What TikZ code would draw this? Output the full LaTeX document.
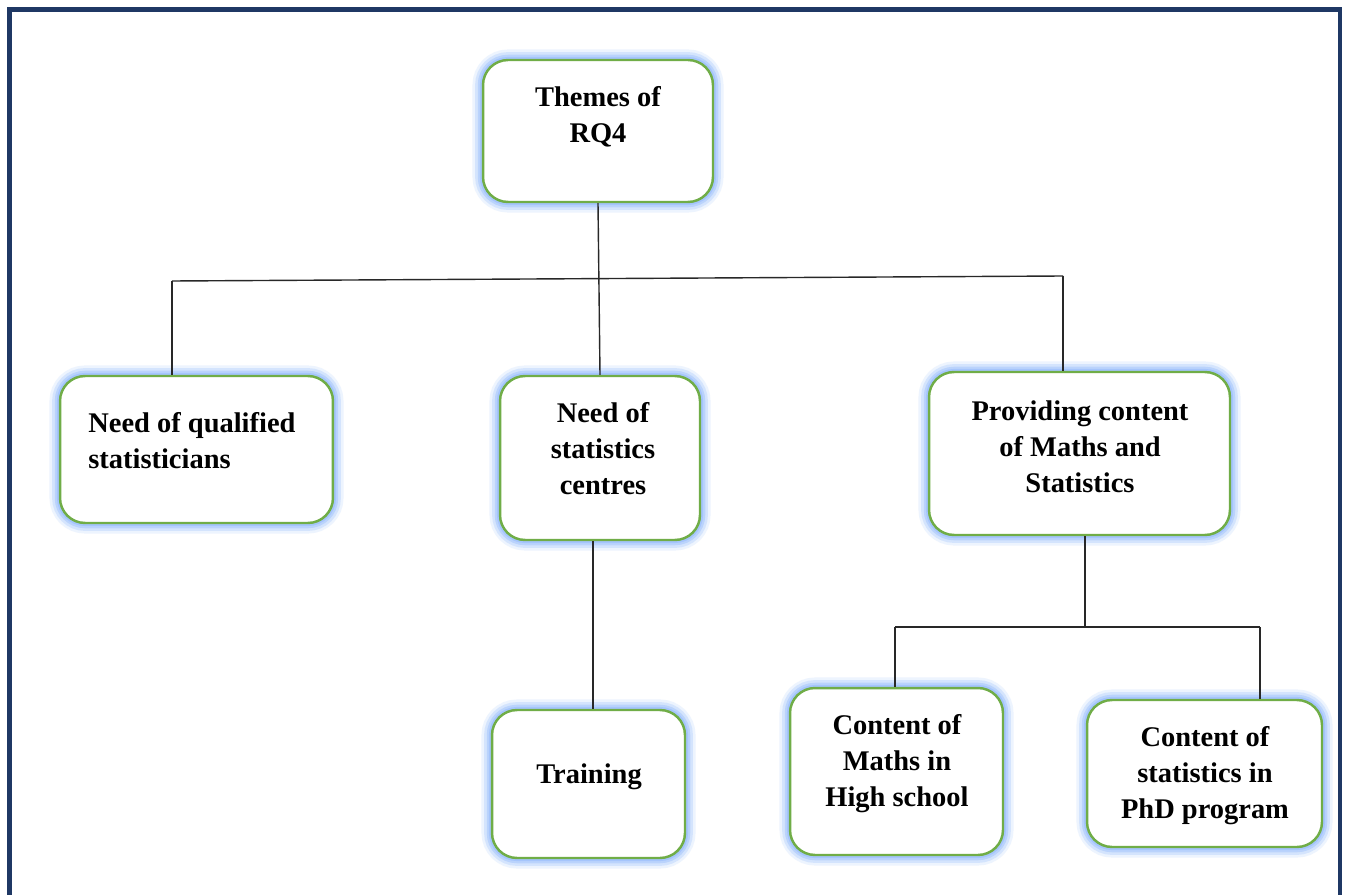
\documentclass[tikz,border=0pt]{standalone}
\usepackage{fontspec}
\setmainfont{Liberation Serif}
\definecolor{framenavy}{RGB}{31,56,100}
\definecolor{boxgreen}{RGB}{112,173,71}
\definecolor{glowblue}{RGB}{140,182,252}
\definecolor{linkgray}{RGB}{40,40,40}
\begin{document}
\begin{tikzpicture}[x=0.02cm,y=-0.02cm,
  themebox/.style={rectangle, rounded corners=0.5cm, fill=white,
    draw=boxgreen, line width=1.4pt, inner sep=0pt,
    preaction={draw=glowblue, line width=12pt, draw opacity=0.15},
    preaction={draw=glowblue, line width=9pt, draw opacity=0.25},
    preaction={draw=glowblue, line width=6pt, draw opacity=0.35},
    preaction={draw=glowblue, line width=3.5pt, draw opacity=0.45}},
  label/.style={font=\bfseries\fontsize{16.2}{20.5}\selectfont, align=center, inner sep=0pt},
  link/.style={draw=linkgray, line width=0.8pt}]
\useasboundingbox (0,0) rectangle (1346,895);
\fill[white] (0,0) rectangle (1346,895);

% outer frame, open at the bottom
\draw[framenavy, line width=2.3pt] (9.5,895) -- (9.5,9.5) -- (1340,9.5) -- (1340,895);

% boxes
\node[themebox, minimum width=4.6cm,  minimum height=2.84cm] (themes) at (598,131) {};
\node[themebox, minimum width=5.46cm, minimum height=2.94cm] (qual)   at (196.5,449.5) {};
\node[themebox, minimum width=4.0cm,  minimum height=3.28cm] (centres) at (600,458) {};
\node[themebox, minimum width=6.02cm, minimum height=3.26cm] (prov)   at (1079.5,453.5) {};
\node[themebox, minimum width=3.86cm, minimum height=2.96cm] (train)  at (588.5,784) {};
\node[themebox, minimum width=4.26cm, minimum height=3.34cm] (maths)  at (896.5,771.5) {};
\node[themebox, minimum width=4.7cm,  minimum height=2.94cm] (phd)    at (1204.5,773.5) {};

% box texts
\node[label] (tthemes) at (598,117) {Themes of\\RQ4};
\node[label, align=left, anchor=west] (tqual) at (88,441) {Need of qualified\\statisticians};
\node[label] (tcentres) at (603,449) {Need of\\statistics\\centres};
\node[label] (tprov) at (1080,447) {Providing content\\of Maths and\\Statistics};
\node[label] (ttrain) at (589,777) {Training};
\node[label] (tmaths) at (897,764) {Content of\\Maths in\\High school};
\node[label] (tphd) at (1205,776) {Content of\\statistics in\\PhD program};

% connectors
\coordinate (busL) at (172,281);
\coordinate (busR) at (1063,276);
\draw[link] (themes.south) -- (centres.north);
\draw[link] (busL) -- (busR);
\draw[link] (busL) -- (busL |- qual.north);
\draw[link] (busR) -- (busR |- prov.north);

\coordinate (cdrop) at (593,540);
\draw[link] (cdrop |- centres.south) -- (cdrop |- train.north);

\coordinate (pdrop) at (1085,627);
\coordinate (subL) at (895,627);
\coordinate (subR) at (1260,627);
\draw[link] (pdrop |- prov.south) -- (pdrop);
\draw[link] (subL) -- (subR);
\draw[link] (subL) -- (subL |- maths.north);
\draw[link] (subR) -- (subR |- phd.north);
\end{tikzpicture}
\end{document}
